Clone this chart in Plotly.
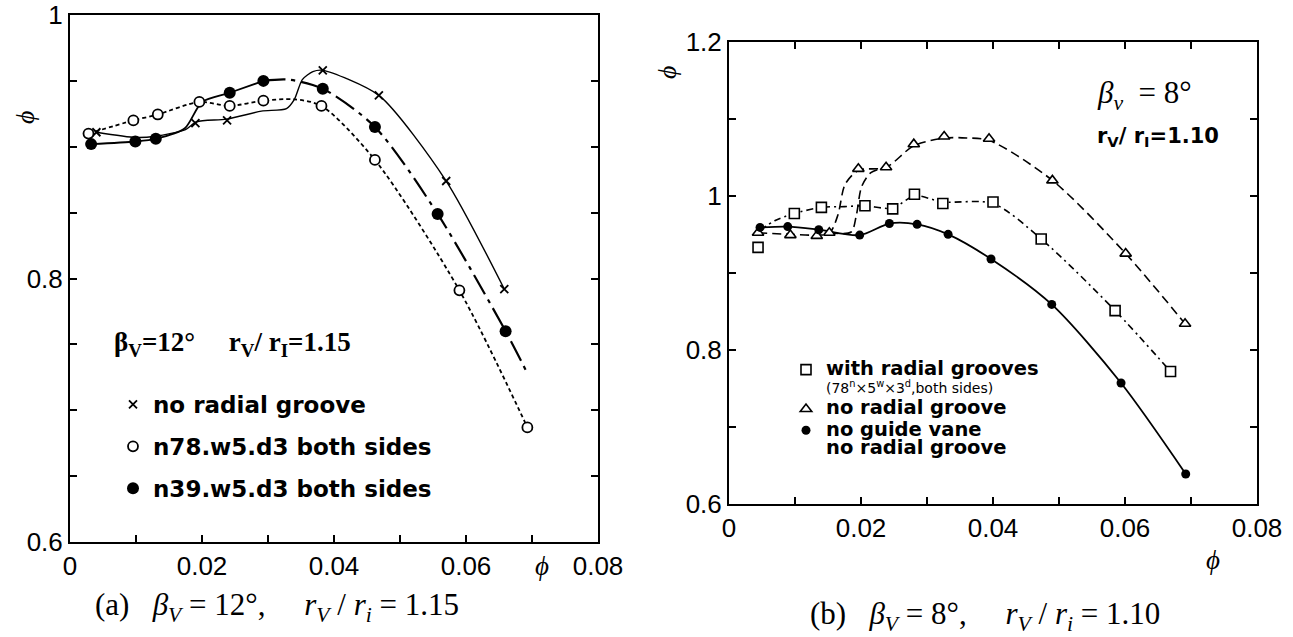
import plotly.graph_objects as go

# ---------------- data: panel (a) ----------------
a_cross_x = [0.0040, 0.0190, 0.0238, 0.0383, 0.0468, 0.0570, 0.0658]
a_cross_y = [0.911, 0.918, 0.920, 0.958, 0.939, 0.874, 0.792]
a_open_x = [0.0028, 0.0096, 0.0133, 0.0196, 0.0242, 0.0293, 0.0381, 0.0462, 0.0590, 0.0693]
a_open_y = [0.910, 0.920, 0.9245, 0.934, 0.931, 0.935, 0.931, 0.890, 0.791, 0.687]
a_fill_x = [0.0032, 0.0099, 0.0130, 0.0242, 0.0293, 0.0383, 0.0462, 0.0557, 0.0660]
a_fill_y = [0.902, 0.904, 0.906, 0.941, 0.950, 0.944, 0.915, 0.849, 0.760]

# fitted curves of panel (a)
a_cross_curve_x = [0.0040, 0.0100, 0.0130, 0.0175, 0.0192, 0.0237, 0.0290, 0.0328, 0.0340, 0.0352, 0.0368, 0.0383, 0.0468, 0.0570, 0.0658]
a_cross_curve_y = [0.911, 0.907, 0.908, 0.913, 0.919, 0.921, 0.927, 0.929, 0.936, 0.951, 0.957, 0.958, 0.939, 0.874, 0.792]
a_open_curve_x = [0.0028, 0.0096, 0.0133, 0.0196, 0.0242, 0.0293, 0.0340, 0.0381, 0.0462, 0.0590, 0.0693]
a_open_curve_y = [0.910, 0.920, 0.9245, 0.934, 0.931, 0.935, 0.936, 0.931, 0.890, 0.791, 0.687]
a_fill_curve1_x = [0.0032, 0.0099, 0.0130, 0.0174, 0.0200, 0.0242, 0.0293]
a_fill_curve1_y = [0.902, 0.904, 0.906, 0.914, 0.934, 0.941, 0.950]
a_fill_curve2_x = [0.0293, 0.0330, 0.0383, 0.0462, 0.0557, 0.0660, 0.0692]
a_fill_curve2_y = [0.950, 0.951, 0.944, 0.915, 0.849, 0.760, 0.729]

# ---------------- data: panel (b) ----------------
b_sq_x = [0.0044, 0.0099, 0.0140, 0.0206, 0.0248, 0.0281, 0.0324, 0.0400, 0.0473, 0.0585, 0.0669]
b_sq_y = [0.933, 0.977, 0.985, 0.987, 0.983, 1.002, 0.990, 0.992, 0.944, 0.851, 0.772]
b_tri_x = [0.0044, 0.0093, 0.0133, 0.0152, 0.0196, 0.0238, 0.0280, 0.0326, 0.0394, 0.0490, 0.0601, 0.0691]
b_tri_y = [0.952, 0.949, 0.948, 0.952, 1.035, 1.037, 1.067, 1.077, 1.074, 1.020, 0.925, 0.834]
b_fill_x = [0.0047, 0.0089, 0.0136, 0.0198, 0.0243, 0.0285, 0.0332, 0.0397, 0.0489, 0.0594, 0.0692]
b_fill_y = [0.959, 0.960, 0.956, 0.949, 0.964, 0.963, 0.950, 0.918, 0.859, 0.757, 0.639]

b_sq_curve_x = [0.0047, 0.0070, 0.0099, 0.0140, 0.0175, 0.0206, 0.0248, 0.0281, 0.0324, 0.0400, 0.0473, 0.0585, 0.0669]
b_sq_curve_y = [0.955, 0.968, 0.977, 0.985, 0.986, 0.987, 0.984, 1.000, 0.992, 0.990, 0.944, 0.851, 0.772]
b_tri_curve_x = [0.0044, 0.0093, 0.0133, 0.0152, 0.0165, 0.0176, 0.0196, 0.0238, 0.0280, 0.0326, 0.0360, 0.0394, 0.0490, 0.0601, 0.0691]
b_tri_curve_y = [0.952, 0.950, 0.949, 0.951, 0.975, 1.015, 1.033, 1.037, 1.065, 1.075, 1.075, 1.072, 1.020, 0.925, 0.834]
b_tri_branch_x = [0.0152, 0.0185, 0.0193, 0.0201, 0.0215, 0.0238]
b_tri_branch_y = [0.952, 0.953, 0.975, 1.012, 1.030, 1.037]
b_fill_curve_x = b_fill_x
b_fill_curve_y = b_fill_y

# ---------------- axis ticks ----------------
a_xtick_vals = [0, 0.01, 0.02, 0.03, 0.04, 0.05, 0.06, 0.07, 0.08]
a_xtick_text = ["0", "", "0.02", "", "0.04", "", "0.06", "", "0.08"]
a_ytick_vals = [0.6, 0.65, 0.7, 0.75, 0.8, 0.85, 0.9, 0.95, 1.0]
a_ytick_text = ["0.6", "", "", "", "0.8", "", "", "", "1"]
b_ytick_vals = [0.6, 0.7, 0.8, 0.9, 1.0, 1.1, 1.2]
b_ytick_text = ["0.6", "", "0.8", "", "1", "", "1.2"]

W, H = 1293, 637
BLACK = "black"
SANS = "Liberation Sans, Arial, sans-serif"
SERIF = "Liberation Serif, Times New Roman, serif"
LEG = "DejaVu Sans, sans-serif"

fig = go.Figure()

def curve(x, y, dash, width, xa, ya, smoothing=0.8):
    fig.add_trace(go.Scatter(x=x, y=y, mode="lines", xaxis=xa, yaxis=ya, showlegend=False,
                             hoverinfo="skip",
                             line=dict(color=BLACK, width=width, dash=dash, shape="spline", smoothing=smoothing)))

# panel (a) curves
curve(a_cross_curve_x, a_cross_curve_y, "solid", 1.4, "x", "y", 0.7)
curve(a_open_curve_x, a_open_curve_y, "4px,3px", 1.8, "x", "y")
curve(a_fill_curve1_x, a_fill_curve1_y, "solid", 1.8, "x", "y", 0.7)
curve(a_fill_curve2_x, a_fill_curve2_y, "22px,6px,4px,6px", 2.2, "x", "y")

# panel (a) markers
fig.add_trace(go.Scatter(x=a_cross_x, y=a_cross_y, mode="markers", xaxis="x", yaxis="y",
                         name="no radial groove", legend="legend", legendgroup="a1",
                         marker=dict(symbol="x-thin", size=8, line=dict(color=BLACK, width=1.8), color=BLACK)))
fig.add_trace(go.Scatter(x=a_open_x, y=a_open_y, mode="markers", xaxis="x", yaxis="y",
                         name="n78.w5.d3 both sides", legend="legend", legendgroup="a2",
                         marker=dict(symbol="circle", size=10, color="white", line=dict(color=BLACK, width=1.8))))
fig.add_trace(go.Scatter(x=a_fill_x, y=a_fill_y, mode="markers", xaxis="x", yaxis="y",
                         name="n39.w5.d3 both sides", legend="legend", legendgroup="a3",
                         marker=dict(symbol="circle", size=12, color=BLACK, line=dict(color=BLACK, width=0))))

# panel (b) curves
curve(b_sq_curve_x, b_sq_curve_y, "7px,4px,2px,4px", 1.6, "x2", "y2")
curve(b_tri_curve_x, b_tri_curve_y, "9px,5px", 1.6, "x2", "y2")
curve(b_tri_branch_x, b_tri_branch_y, "9px,5px", 1.6, "x2", "y2")
curve(b_fill_curve_x, b_fill_curve_y, "solid", 1.8, "x2", "y2")

big = '<span style="font-size:19.5px">%s</span>'
fig.add_trace(go.Scatter(x=b_sq_x, y=b_sq_y, mode="markers", xaxis="x2", yaxis="y2",
                         name=big % "with radial grooves" +
                         '<br><span style="font-weight:normal">(78<sup>n</sup>×5<sup>w</sup>×3<sup>d</sup>,both sides)</span>',
                         legend="legend2",
                         marker=dict(symbol="square", size=10, color="white", line=dict(color=BLACK, width=1.6))))
fig.add_trace(go.Scatter(x=b_tri_x, y=b_tri_y, mode="markers", xaxis="x2", yaxis="y2",
                         name=big % "no radial groove", legend="legend2",
                         marker=dict(symbol="triangle-up", size=10, color="white", line=dict(color=BLACK, width=1.6))))
fig.add_trace(go.Scatter(x=b_fill_x, y=b_fill_y, mode="markers", xaxis="x2", yaxis="y2",
                         name=big % "no guide vane" + "<br>" + big % "no radial groove", legend="legend2",
                         marker=dict(symbol="circle", size=9, color=BLACK, line=dict(width=0))))

axis_common = dict(showgrid=False, zeroline=False, showline=True, linecolor=BLACK, linewidth=2,
                   ticks="inside", ticklen=7, tickwidth=1.5, tickcolor=BLACK, automargin=False,
                   tickfont=dict(family=SANS, size=26, color=BLACK), fixedrange=True)

fig.update_layout(
    width=W, height=H, autosize=False,
    margin=dict(l=0, r=0, t=0, b=0, pad=0),
    paper_bgcolor="white", plot_bgcolor="white",
    xaxis=dict(domain=[70 / W, 598 / W], range=[0, 0.08], tickmode="array",
               tickvals=a_xtick_vals, ticktext=a_xtick_text, mirror=True, anchor="y", **axis_common),
    yaxis=dict(domain=[1 - 542 / H, 1 - 15 / H], range=[0.6, 1.0], tickmode="array",
               tickvals=a_ytick_vals, ticktext=a_ytick_text, mirror="ticks", anchor="x", **axis_common),
    xaxis2=dict(domain=[729 / W, 1257 / W], range=[0, 0.08], tickmode="array",
                tickvals=a_xtick_vals, ticktext=a_xtick_text, mirror="ticks", anchor="y2", **axis_common),
    yaxis2=dict(domain=[1 - 504 / H, 1 - 41.7 / H], range=[0.6, 1.2], tickmode="array",
                tickvals=b_ytick_vals, ticktext=b_ytick_text, mirror="ticks", anchor="x2", **axis_common),
    legend=dict(x=113 / W, y=1 - 383 / H, xanchor="left", yanchor="top",
                font=dict(family=LEG, size=23, color=BLACK, weight="bold"),
                bgcolor="rgba(0,0,0,0)", borderwidth=0, tracegroupgap=9, traceorder="grouped"),
    legend2=dict(x=786 / W, y=1 - 354 / H, xanchor="left", yanchor="top", valign="top",
                 font=dict(family=LEG, size=14, color=BLACK, weight="bold"),
                 bgcolor="rgba(0,0,0,0)", borderwidth=0, tracegroupgap=0),
)

def note(text, x, y, size, family, xanchor="left", yanchor="middle", angle=0, weight="normal"):
    fig.add_annotation(text=text, x=x / W, y=1 - y / H, xref="paper", yref="paper",
                       xanchor=xanchor, yanchor=yanchor, showarrow=False, textangle=angle,
                       font=dict(size=size, family=family, color=BLACK, weight=weight))

NB = "\u00a0"
# panel (a) labels
note("β<sub>V</sub>=12°" + NB * 5 + "r<sub>V</sub>/ r<sub>I</sub>=1.15", 112, 344, 27, SERIF, weight="bold")
note("<i>ϕ</i>", 25, 118, 26, SERIF, xanchor="center", angle=-90)
note("<i>ϕ</i>", 542, 566, 27, SERIF, xanchor="center")
note("(a)" + NB * 3 + "<i>β<sub>V</sub></i>" + NB + "=" + NB + "12°," + NB * 5 +
     "<i>r<sub>V</sub></i> / <i>r<sub>i</sub></i>" + NB + "=" + NB + "1.15",
     93, 607, 31, SERIF)
# panel (b) labels
note("<i>β<sub>v</sub></i>" + NB + " = 8°", 1095, 95, 31, SERIF)
note("r<sub>V</sub>/ r<sub>I</sub>=1.10", 1095, 137, 21, LEG, weight="bold")
note("<i>ϕ</i>", 668, 73, 26, SERIF, xanchor="center", angle=-90)
note("<i>ϕ</i>", 1213, 560, 27, SERIF, xanchor="center")
note("(b)" + NB * 3 + "<i>β<sub>V</sub></i>" + NB + "=" + NB + "8°," + NB * 5 +
     "<i>r<sub>V</sub></i> / <i>r<sub>i</sub></i>" + NB + "=" + NB + "1.10",
     808, 616, 31, SERIF)

fig.write_html("out.html")
